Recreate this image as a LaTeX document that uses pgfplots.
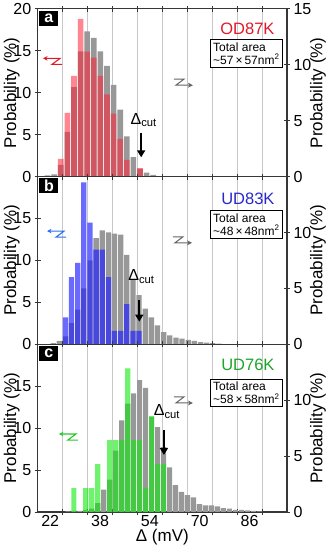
\documentclass[border=0pt]{standalone}
\usepackage{pgfplots}
\pgfplotsset{compat=1.18}
\usepackage{fontspec}
\setmainfont{Liberation Sans}
\usetikzlibrary{arrows.meta}

\definecolor{barg}{RGB}{152,152,152}
\definecolor{axc}{RGB}{55,55,55}
\definecolor{gridc}{RGB}{200,200,200}
\definecolor{cred}{RGB}{255,35,55}
\definecolor{cblue}{RGB}{35,35,255}
\definecolor{cgreen}{RGB}{15,235,15}
\definecolor{tred}{RGB}{225,25,40}
\definecolor{tblue}{RGB}{40,40,205}
\definecolor{tgreen}{RGB}{30,165,40}
\definecolor{ablue}{RGB}{40,110,240}
\definecolor{agreen}{RGB}{40,200,40}
\definecolor{agrey}{RGB}{100,100,100}

\pgfplotsset{
  base/.style={scale only axis, width=249.3pt, height=167.7pt,
    xmin=18, xmax=98, ymin=0, clip=false,
    axis line style={axc, line width=1.1pt},
    tick style={axc, line width=0.9pt},
    tick align=center, major tick length=6pt,
    /pgf/number format/assume math mode=true,
    ticklabel style={font=\fontsize{16}{18}\selectfont},
    label style={font=\fontsize{17}{19}\selectfont},
  },
  greyax/.style={base, ymax=15, axis y line*=right,
    xtick={26,34,...,90}, xticklabels={,,,,,,,,,}, xmajorgrids,
    major x grid style={gridc, line width=0.7pt},
    ylabel={Probability (\%)},
    ylabel style={at={(axis description cs:1.124,0.5)}, anchor=center},
  },
  colax/.style={base, ymax=20, axis y line*=left, axis x line=none,
    ylabel={Probability (\%)},
    ylabel style={at={(axis description cs:-0.104,0.5)}, anchor=center},
  },
  greybar/.style={ybar, bar shift=0pt, draw=none, fill=barg},
}

\newcommand{\letterbox}[1]{\node[fill=black, text=white, font=\bfseries\fontsize{16}{16}\selectfont,
  minimum width=19pt, minimum height=15pt, inner sep=0pt, anchor=north west]
  at (rel axis cs:0,1) [xshift=1.5pt, yshift=-1.5pt] {#1};}
\newcommand{\areabox}[2]{\node[draw=black, line width=1pt, fill=white, anchor=north east,
  align=left, inner sep=3pt, font=\fontsize{12}{13}\selectfont]
  at (rel axis cs:0.984,#1) {Total area\\\textasciitilde #2\,×\,#2nm\textsuperscript{2}};}
\newcommand{\cutmark}[5]{% x, top, tip, label x, label y
  \draw[black, line width=1.6pt, -{Triangle[length=7pt,width=8pt]}]
    (axis cs:#1,#2) -- (axis cs:#1,#3);
  \node[font=\fontsize{16}{18}\selectfont] at (axis cs:#4,#5) {Δ\textsubscript{cut}};}
% zigzag arrows, drawn in the left-scale axis (1 px = 0.321 mV in x, 0.119 % in y)
\newcommand{\zigleft}[3]{\draw[#1, line width=1.1pt, {Stealth[length=4.5pt,width=4.5pt]}-]
  (axis cs:#2,#3) -- (axis cs:{#2+5.46},#3) -- (axis cs:{#2+2.89},{#3-0.72})
  -- (axis cs:{#2+6.1},{#3-0.72});}
\newcommand{\zigright}[2]{\draw[agrey, line width=1pt, {Stealth[length=5pt,width=5pt]}-]
  (axis cs:#1,#2) -- (axis cs:{#1-5.46},#2) -- (axis cs:{#1-2.89},{#2+0.72})
  -- (axis cs:{#1-6.1},{#2+0.72});}

\begin{document}
\begin{tikzpicture}
\useasboundingbox (-37.7pt,-34pt) rectangle (289.3pt,512pt);

% ---------------- panel a ----------------
\begin{axis}[greyax, at={(0,335.4pt)}, ytick={0,5,10,15}]
\addplot[greybar, bar width=1.8] coordinates {
 (21.16,0.1) (23.28,0.2) (25.40,1.05) (27.52,4.0) (29.64,8.0) (31.76,11.2)
 (33.88,13.0) (36.00,12.4) (38.12,11.2) (40.24,9.9) (42.36,8.2) (44.48,6.0)
 (46.60,3.6) (48.72,1.75) (50.84,0.7) (52.96,0.35) (55.08,0.15)};
\end{axis}
\begin{axis}[colax, at={(0,335.4pt)}, ytick={0,5,10,15,20}]
\addplot[ybar, bar shift=0pt, bar width=1.8, draw=none, fill=cred, fill opacity=0.55] coordinates {
 (25.40,2.1) (27.52,7.6) (29.64,12.0) (31.76,18.8) (33.88,14.9) (36.00,14.2)
 (38.12,12.0) (40.24,9.8) (42.36,7.5) (44.48,4.5) (46.60,2.0) (50.84,1.0)};
\letterbox{a}
\node[anchor=east, text=tred, font=\fontsize{16.5}{18}\selectfont] at (rel axis cs:0.964,0.88) {OD87K};
\areabox{0.821}{57}
\cutmark{51.2}{5.2}{2.3}{52.0}{6.75}
\zigleft{tred}{19.7}{14.1}
\zigright{67.8}{10.9}
\end{axis}

% ---------------- panel b ----------------
\begin{axis}[greyax, at={(0,167.7pt)}, ytick={0,5,10}]
\addplot[greybar, bar width=1.7] coordinates {
 (22.96,0.1) (24.93,0.3) (26.90,0.7) (28.87,1.9) (30.84,3.1) (32.81,5.0)
 (34.78,7.5) (36.75,9.5) (38.72,10.2) (40.69,10.0) (42.66,9.9) (44.63,9.8)
 (46.60,8.0) (48.57,5.8) (50.54,4.4) (52.51,3.2) (54.48,2.4) (56.45,1.7)
 (58.42,1.1) (60.39,0.8) (62.36,0.6) (64.33,0.5) (66.30,0.4) (68.27,0.3)
 (70.24,0.2) (72.21,0.15) (74.18,0.1) (76.15,0.05)};
\end{axis}
\begin{axis}[colax, at={(0,167.7pt)}, ytick={0,5,10,15}]
\addplot[ybar, bar shift=0pt, bar width=1.7, draw=none, fill=cblue, fill opacity=0.68] coordinates {
 (26.90,3.2) (28.87,8.0) (30.84,9.7) (32.81,19.3) (34.78,14.5) (36.75,11.3)
 (38.72,11.3) (40.69,8.0) (42.66,1.6) (44.63,1.6) (46.60,4.8) (48.57,1.6) (50.54,1.6)};
\letterbox{b}
\node[anchor=east, text=tblue, font=\fontsize{16.5}{18}\selectfont] at (rel axis cs:0.964,0.87) {UD83K};
\areabox{0.80}{48}
\cutmark{50.6}{5.3}{2.7}{51.3}{8.1}
\zigleft{ablue}{21.0}{13.5}
\zigright{67.5}{12.1}
\end{axis}

% ---------------- panel c ----------------
\begin{axis}[greyax, at={(0,0)}, ytick={0,5,10},
  extra x ticks={22,38,54,70,86}, extra x tick labels={22,38,54,70,86},
  extra x tick style={major tick length=0pt, grid=none},
  xlabel={Δ (mV)}, xlabel style={at={(axis description cs:0.5,-0.152)}, anchor=center}]
\addplot[greybar, bar width=1.65] coordinates {
 (27.68,0.05) (29.60,0.1) (31.52,0.1) (33.44,0.2) (35.36,0.3) (37.28,0.8)
 (39.20,2.0) (41.12,2.9) (43.04,5.5) (44.96,8.2) (46.88,9.7) (48.80,10.6)
 (50.72,11.8) (52.64,11.1) (54.56,8.5) (56.48,7.6) (58.40,5.8) (60.32,4.0)
 (62.24,2.4) (64.16,1.8) (66.08,1.5) (68.00,1.3) (69.92,0.7) (71.84,0.6)
 (73.76,0.6) (75.68,0.5) (77.60,0.35) (79.52,0.3) (81.44,0.2) (83.36,0.2)
 (85.28,0.15) (87.20,0.1) (89.12,0.05)};
\end{axis}
\begin{axis}[colax, at={(0,0)}, ytick={0,5,10,15}]
\addplot[ybar, bar shift=0pt, bar width=1.65, draw=none, fill=cgreen, fill opacity=0.6] coordinates {
 (29.60,2.86) (33.44,2.86) (35.36,2.86) (37.28,5.71) (41.12,8.57) (43.04,8.57)
 (44.96,8.57) (46.88,17.14) (48.80,8.57) (50.72,8.57) (52.64,2.86) (54.56,11.43)
 (56.48,5.71) (58.40,5.71)};
\letterbox{c}
\node[anchor=east, text=tgreen, font=\fontsize{16.5}{18}\selectfont] at (rel axis cs:0.964,0.877) {UD76K};
\areabox{0.795}{58}
\cutmark{58.5}{9.8}{6.8}{59.5}{12.0}
\zigleft{agreen}{24.8}{9.3}
\zigright{67.8}{13.0}
\end{axis}
\end{tikzpicture}
\end{document}
